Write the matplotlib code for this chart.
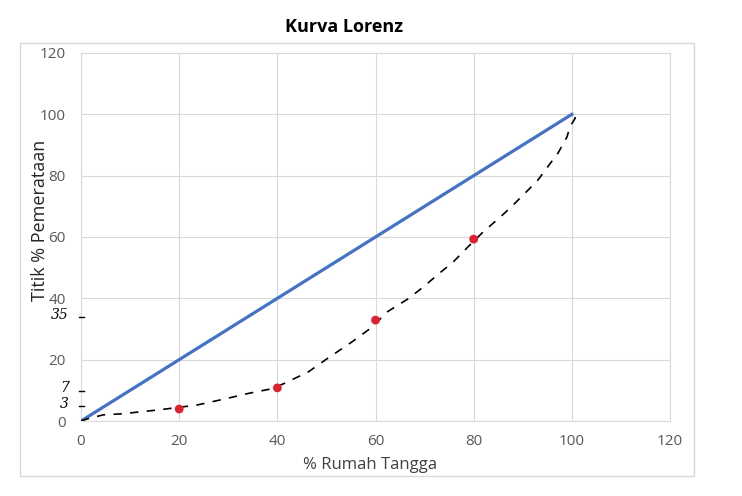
import matplotlib
matplotlib.use("Agg")
import matplotlib.pyplot as plt
from matplotlib.patches import Rectangle

# Data
equality_x = [0, 100]
equality_y = [0, 100]

lorenz_x = [0, 1.2, 4.5, 7.9, 11.6, 15.7, 23.6, 29.3, 34.4, 38.5, 41.2, 46.3, 50.3,
            55.2, 59.3, 62.3, 66.6, 69.5, 73.1, 75.8, 78.6, 81.9, 85.4, 87.4, 90.1,
            93.1, 94.9, 97.2, 99.0, 99.6, 100.7, 100]
lorenz_y = [0, 0.65, 2.0, 2.3, 2.9, 3.6, 5.2, 7.2, 9.1, 10.4, 12.1, 16.0, 20.5,
            25.8, 30.6, 35.5, 39.8, 43.4, 48.3, 51.8, 56.4, 61.6, 66.5, 69.4, 73.7,
            78.6, 82.5, 87.4, 92.6, 95.9, 98.8, 100]

points_x = [20, 40, 60, 80]
points_y = [3.9, 10.8, 32.9, 59.3]

note_labels = ["35", "7", "3"]
note_y = [33.9, 9.8, 4.9]

xticks = [0, 20, 40, 60, 80, 100, 120]
yticks = [0, 20, 40, 60, 80, 100, 120]

fig = plt.figure(figsize=(7.42, 4.96), dpi=100)
ax = fig.add_axes([0.1092, 0.1512, 0.7938, 0.742])

# outer chart border
fig.patches.append(Rectangle((0.02695, 0.0403), 0.9353 - 0.02695, 0.9133 - 0.0403,
                             transform=fig.transFigure, fill=False,
                             edgecolor="#d9d9d9", linewidth=1.0))

ax.set_xlim(0, 120)
ax.set_ylim(0, 120)
ax.set_xticks(xticks)
ax.set_yticks(yticks)
ax.grid(True, color="#d9d9d9", linewidth=0.8)
ax.set_axisbelow(True)
for s in ax.spines.values():
    s.set_color("#d9d9d9")
    s.set_linewidth(0.8)
ax.tick_params(length=0, labelsize=11, colors="#595959")
ax.tick_params(axis="x", pad=9)
ax.tick_params(axis="y", pad=11)
for lab in ax.get_xticklabels() + ax.get_yticklabels():
    lab.set_family("Open Sans")

ax.plot(equality_x, equality_y, color="#4472C4", linewidth=2.3, zorder=3)
ax.plot(lorenz_x, lorenz_y, color="black", linewidth=1.2, dashes=(5, 5), zorder=4)
ax.scatter(points_x, points_y, s=40, color="#e02030", zorder=5, edgecolors="none")

# handwritten notes near y axis
for lab, yv in zip(note_labels, note_y):
    ax.plot([-0.4, 0.6], [yv, yv], color="black", linewidth=1.0, clip_on=False, zorder=6)
    ax.text(-2.5, yv + 0.8, lab, ha="right", va="center", fontsize=10,
            family="DejaVu Serif", style="italic", color="black")

fig.text(0.4636, 0.9456, "Kurva Lorenz", ha="center", va="center",
         fontsize=13, fontweight="bold", family="Open Sans", color="black")
fig.text(0.4987, 0.0625, "% Rumah Tangga", ha="center", va="center",
         fontsize=12, family="Open Sans", color="#404040")
fig.text(0.0539, 0.556, "Titik % Pemerataan", ha="center", va="center",
         rotation=90, fontsize=13, family="Open Sans", color="#262626")

fig.savefig("out.png", dpi=100)
